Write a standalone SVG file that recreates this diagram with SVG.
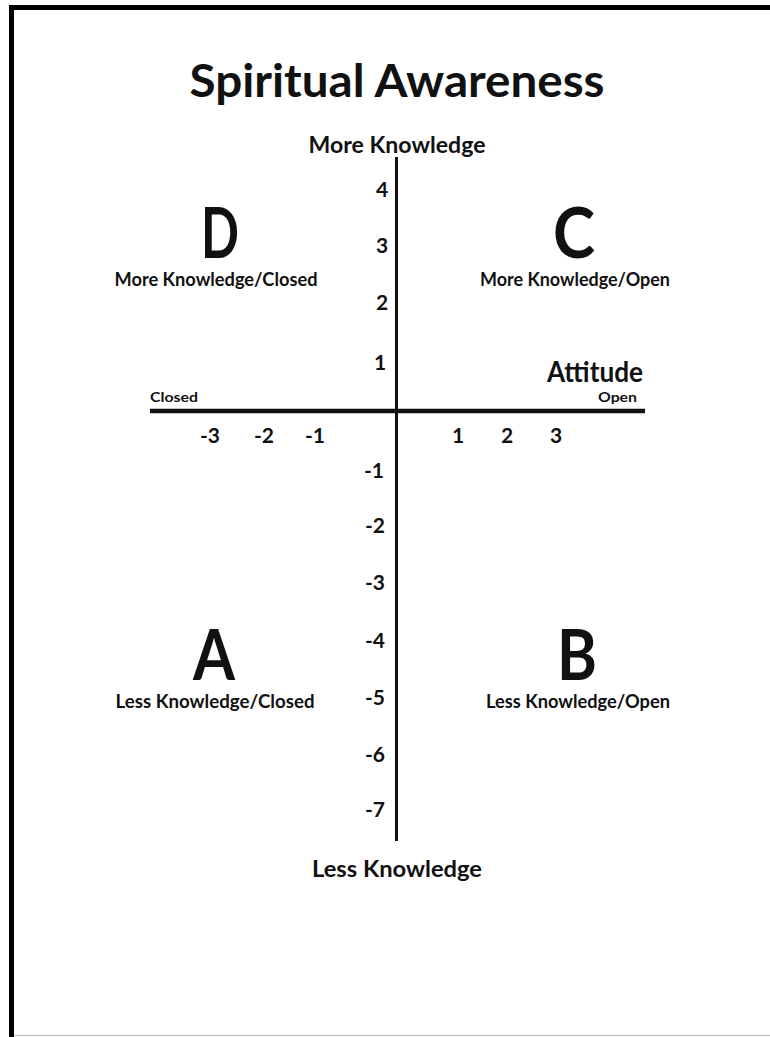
<svg xmlns="http://www.w3.org/2000/svg" width="770" height="1037" viewBox="0 0 770 1037">
  <style>
    text { font-family: "Lato", "Liberation Sans", sans-serif; font-weight: 700; fill: #111; }
    .title { font-size: 46px; text-anchor: middle; }
    .pole { font-size: 22px; text-anchor: middle; }
    .letter { font-size: 70px; text-anchor: middle; }
    .qlabel { font-size: 18px; text-anchor: middle; }
    .tick { font-size: 21px; text-anchor: middle; }
    .small { font-size: 14px; }
    .axis { stroke: #111; fill: none; }
  </style>

  <!-- page frame -->
  <rect x="0" y="0" width="770" height="1037" fill="#fff"/>
  <rect x="11.5" y="7.5" width="800" height="1040" fill="#fff" stroke="#000" stroke-width="5"/>
  <line x1="14" y1="1035.5" x2="770" y2="1035.5" stroke="#c8c8c8" stroke-width="1.5"/>

  <g id="title">
    <text class="title" x="397" y="97" textLength="415" lengthAdjust="spacingAndGlyphs">Spiritual Awareness</text>
  </g>

  <!-- axes -->
  <g id="connectors">
    <line class="axis" x1="396.5" y1="157" x2="396.5" y2="841" stroke-width="3"/>
    <line class="axis" x1="150" y1="411" x2="645" y2="411" stroke-width="4.5"/>
  </g>

  <g id="axis-labels">
    <text class="pole" x="397" y="153" textLength="177" lengthAdjust="spacingAndGlyphs">More Knowledge</text>
    <text class="pole" x="397" y="877" textLength="170" lengthAdjust="spacingAndGlyphs">Less Knowledge</text>
    <text x="547" y="382" font-size="28" textLength="96" lengthAdjust="spacingAndGlyphs">Attitude</text>
    <text class="small" x="150" y="402" textLength="48" lengthAdjust="spacingAndGlyphs">Closed</text>
    <text class="small" x="598" y="402" textLength="39" lengthAdjust="spacingAndGlyphs">Open</text>
  </g>

  <g id="quadrant-D">
    <text class="letter" x="220" y="258" textLength="38" lengthAdjust="spacingAndGlyphs">D</text>
    <text class="qlabel" x="216" y="286" textLength="203" lengthAdjust="spacingAndGlyphs">More Knowledge/Closed</text>
  </g>
  <g id="quadrant-C">
    <text class="letter" x="574" y="258" textLength="42" lengthAdjust="spacingAndGlyphs">C</text>
    <text class="qlabel" x="575" y="286" textLength="190" lengthAdjust="spacingAndGlyphs">More Knowledge/Open</text>
  </g>
  <g id="quadrant-A">
    <text class="letter" x="214" y="680" textLength="42" lengthAdjust="spacingAndGlyphs">A</text>
    <text class="qlabel" x="215" y="708" textLength="199" lengthAdjust="spacingAndGlyphs">Less Knowledge/Closed</text>
  </g>
  <g id="quadrant-B">
    <text class="letter" x="577" y="680" textLength="40" lengthAdjust="spacingAndGlyphs">B</text>
    <text class="qlabel" x="578" y="708" textLength="184" lengthAdjust="spacingAndGlyphs">Less Knowledge/Open</text>
  </g>

  <!-- vertical scale -->
  <g id="knowledge-scale">
    <text class="tick" x="382" y="197">4</text>
    <text class="tick" x="382" y="253">3</text>
    <text class="tick" x="382" y="310">2</text>
    <text class="tick" x="380" y="370">1</text>
    <text class="tick" x="374" y="478">-1</text>
    <text class="tick" x="375" y="533">-2</text>
    <text class="tick" x="375" y="590">-3</text>
    <text class="tick" x="375" y="648">-4</text>
    <text class="tick" x="375" y="705">-5</text>
    <text class="tick" x="375" y="762">-6</text>
    <text class="tick" x="375" y="817">-7</text>
  </g>

  <!-- horizontal scale -->
  <g id="attitude-scale">
    <text class="tick" x="210" y="443">-3</text>
    <text class="tick" x="264" y="443">-2</text>
    <text class="tick" x="315" y="443">-1</text>
    <text class="tick" x="458" y="443">1</text>
    <text class="tick" x="507" y="443">2</text>
    <text class="tick" x="556" y="443">3</text>
  </g>
</svg>
